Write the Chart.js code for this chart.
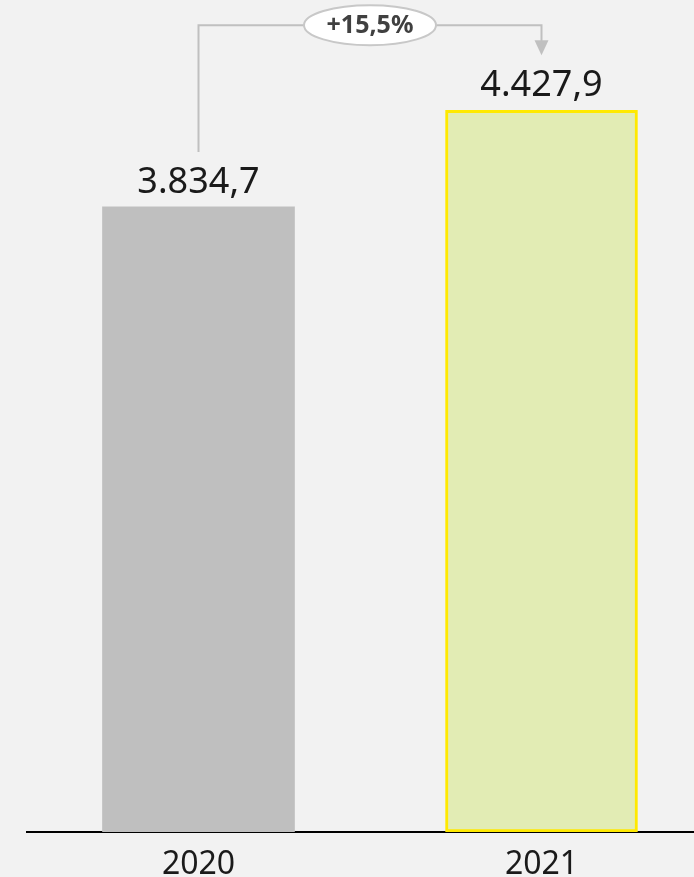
<!DOCTYPE html>
<html>
<head>
<meta charset="utf-8">
<script src="https://cdn.jsdelivr.net/npm/chart.js@4.4.0/dist/chart.umd.min.js"></script>
<style>
  html, body { margin: 0; padding: 0; background: #f2f2f2; overflow: hidden; }
  #wrap { width: 694px; height: 877px; }
</style>
</head>
<body>
<div id="wrap"><canvas id="myChart" width="694" height="877"></canvas></div>
<script>
// data
var years = ["2020", "2021"];
var values = [3834.7, 4427.9];
var barColors = ["#bfbfbf", "#e2ecb4"];
var barBorders = ["#bfbfbf", "#ffe900"];
var borderWidths = [0, 3];

var FONT = "'Noto Sans', 'Open Sans', sans-serif";

// 3834.7 -> "3.834,7"
function formatValue(v) {
    var parts = v.toFixed(1).split(".");
    var intPart = parts[0].replace(/\B(?=(\d{3})+(?!\d))/g, ".");
    return intPart + "," + parts[1];
}

// labels above the bars
var valueLabels = {
    id: "valueLabels",
    afterDatasetsDraw: function (chart) {
        var ctx = chart.ctx;
        var meta = chart.getDatasetMeta(0);
        ctx.save();
        ctx.font = "36px " + FONT;
        ctx.fillStyle = "#1a1a1a";
        ctx.textAlign = "center";
        ctx.textBaseline = "alphabetic";
        meta.data.forEach(function (bar, i) {
            ctx.fillText(formatValue(values[i]), bar.x, bar.y - 14);
        });
        ctx.restore();
    }
};

// bracket with the growth rate between the two bars
var growthArrow = {
    id: "growthArrow",
    afterDatasetsDraw: function (chart) {
        var ctx = chart.ctx;
        var meta = chart.getDatasetMeta(0);
        var b0 = meta.data[0];
        var b1 = meta.data[1];
        var topY = b1.y - 85;
        var tipY = b1.y - 55;
        ctx.save();
        ctx.strokeStyle = "#c0c0c0";
        ctx.lineWidth = 2;
        ctx.beginPath();
        ctx.moveTo(b0.x, b0.y - 55);
        ctx.lineTo(b0.x, topY);
        ctx.lineTo(b1.x, topY);
        ctx.lineTo(b1.x, tipY - 14);
        ctx.stroke();
        // arrow head
        ctx.fillStyle = "#c0c0c0";
        ctx.beginPath();
        ctx.moveTo(b1.x - 7, tipY - 15);
        ctx.lineTo(b1.x + 7, tipY - 15);
        ctx.lineTo(b1.x, tipY);
        ctx.closePath();
        ctx.fill();

        // ellipse with the percentage
        var cx = (b0.x + b1.x) / 2;
        ctx.beginPath();
        ctx.ellipse(cx, topY, 66, 20, 0, 0, Math.PI * 2);
        ctx.fillStyle = "#ffffff";
        ctx.fill();
        ctx.lineWidth = 2;
        ctx.strokeStyle = "#c8c8c8";
        ctx.stroke();

        var pct = (values[1] / values[0] - 1) * 100;
        var txt = "+" + pct.toFixed(1).replace(".", ",") + "%";
        ctx.font = "bold 25px " + FONT;
        ctx.fillStyle = "#404040";
        ctx.textAlign = "center";
        ctx.textBaseline = "middle";
        ctx.fillText(txt, cx, topY + 1);
        ctx.restore();
    }
};

var ctx = document.getElementById("myChart").getContext("2d");
var chart = new Chart(ctx, {
    type: "bar",
    data: {
        datasets: [{
            data: values.map(function (v, i) { return { x: i, y: v }; }),
            backgroundColor: barColors,
            borderColor: barBorders,
            borderWidth: borderWidths,
            borderSkipped: false,
            barThickness: 192
        }]
    },
    options: {
        responsive: false,
        animation: false,
        layout: { padding: { left: 27, right: 0, top: 0, bottom: 0 } },
        plugins: {
            legend: { display: false },
            tooltip: { enabled: false }
        },
        scales: {
            x: {
                type: "linear",
                offset: false,
                bounds: "data",
                min: -0.5,
                max: (694 - 27) / 343 - 0.5,
                grid: { display: false, offset: false },
                border: { display: true, color: "#000000", width: 2 },
                afterBuildTicks: function (scale) {
                    scale.ticks = years.map(function (y, i) { return { value: i }; });
                },
                afterFit: function (scale) {
                    scale.height = 45;
                },
                ticks: {
                    autoSkip: false,
                    maxRotation: 0,
                    padding: 6,
                    color: "#1a1a1a",
                    font: { family: FONT, size: 32 },
                    callback: function (v) { return years[v]; }
                }
            },
            y: {
                display: false,
                min: 0,
                max: 5104
            }
        }
    },
    plugins: [valueLabels, growthArrow]
});
</script>
</body>
</html>
